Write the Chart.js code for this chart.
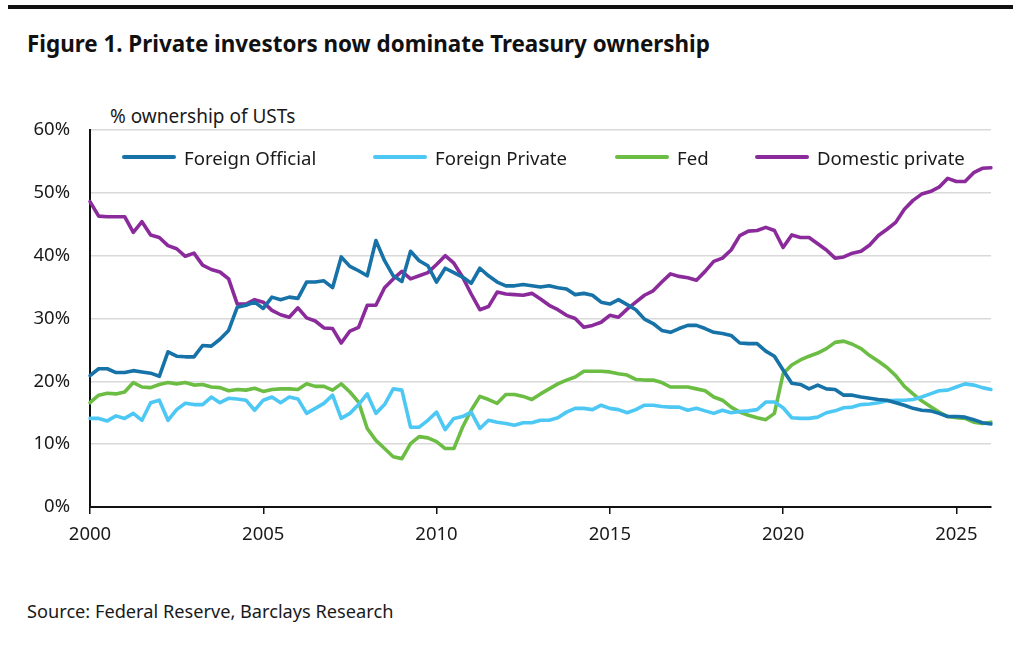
<!DOCTYPE html>
<html>
<head>
<meta charset="utf-8">
<script src="https://cdn.jsdelivr.net/npm/chart.js@4.4.1/dist/chart.umd.min.js"></script>
<style>
  html, body { margin:0; padding:0; background:#fff; }
  body { width:1024px; height:647px; position:relative; overflow:hidden; font-family:"Noto Sans", sans-serif; color:#1a1a1a; }
  #c { position:absolute; left:0; top:0; }
  .abs { position:absolute; white-space:nowrap; line-height:1; }
  #rule { position:absolute; left:8px; top:5px; width:1005px; height:4px; background:#111; }
  #title { left:27px; top:33px; font-size:22.4px; font-weight:700; color:#111; }
  #sub { left:110px; top:107px; font-size:19px; }
  #source { left:27px; top:602px; font-size:18.2px; }
  .leg { position:absolute; top:147px; height:20px; display:flex; align-items:center; font-size:18.6px; white-space:nowrap; }
  .leg span.ln { display:inline-block; width:54px; height:4px; border-radius:2px; margin-right:8px; }
</style>
</head>
<body>
<div id="rule"></div>
<div id="title" class="abs">Figure 1. Private investors now dominate Treasury ownership</div>
<div id="sub" class="abs">% ownership of USTs</div>
<div id="source" class="abs">Source: Federal Reserve, Barclays Research</div>
<canvas id="c" width="1024" height="647"></canvas>
<script>
// ---- Data (quarterly, 2000 Q1 .. 2026 Q1), % ownership of USTs ----
const years = [2000,2001,2002,2003,2004,2005,2006,2007,2008,2009,2010,2011,2012,2013,2014,2015,2016,2017,2018,2019,2020,2021,2022,2023,2024,2025,2026];
const yearTickLabels = ['2000','2005','2010','2015','2020','2025'];
const seriesNames = ['Foreign Official','Foreign Private','Fed','Domestic private'];
const seriesColors = ['#1672a7','#4dc8f4','#6bbd44','#8b2b9b'];

const foreignOfficial = [
  20.9,22.0,22.0,21.4, 21.4,21.7,21.5,21.3, 20.8,24.7,24.0,23.9, 23.9,25.7,25.6,26.7,
  28.1,31.8,32.1,32.6, 31.6,33.4,33.0,33.4, 33.2,35.8,35.8,36.0, 34.9,39.8,38.3,37.6,
  36.8,42.4,39.2,36.8, 35.9,40.7,39.2,38.4, 35.8,38.0,37.3,36.6, 35.6,38.0,36.8,35.8,
  35.2,35.2,35.4,35.2, 35.0,35.2,34.9,34.7, 33.8,34.0,33.7,32.6, 32.3,33.0,32.2,31.4,
  29.9,29.2,28.1,27.8, 28.4,28.9,28.9,28.4, 27.8,27.6,27.3,26.1, 26.0,26.0,24.8,24.0,
  21.8,19.7,19.5,18.8, 19.4,18.8,18.7,17.8, 17.8,17.5,17.3,17.1, 17.0,16.6,16.2,15.7,
  15.4,15.3,14.9,14.4, 14.4,14.3,13.9,13.4, 13.2
];
const foreignPrivate = [
  14.1,14.1,13.7,14.5, 14.1,14.9,13.8,16.6, 17.0,13.8,15.5,16.5, 16.3,16.3,17.5,16.6,
  17.3,17.2,17.0,15.4, 17.0,17.5,16.6,17.5, 17.2,14.9,15.7,16.5, 17.8,14.1,14.9,16.3,
  18.0,14.9,16.3,18.8, 18.6,12.7,12.7,13.8, 15.1,12.3,14.1,14.4, 15.1,12.5,13.8,13.5,
  13.3,13.0,13.4,13.4, 13.8,13.8,14.2,15.1, 15.7,15.7,15.5,16.2, 15.7,15.5,15.0,15.5,
  16.2,16.2,16.0,15.9, 15.9,15.4,15.7,15.3, 14.9,15.4,15.0,15.2, 15.3,15.5,16.7,16.7,
  15.8,14.2,14.1,14.1, 14.3,15.0,15.3,15.8, 15.9,16.3,16.4,16.6, 16.9,17.0,17.0,17.1,
  17.5,18.0,18.5,18.6, 19.1,19.6,19.4,19.0, 18.7
];
const fed = [
  16.6,17.8,18.1,18.0, 18.3,19.8,19.1,19.0, 19.5,19.8,19.6,19.8, 19.4,19.5,19.1,19.0,
  18.5,18.7,18.6,18.9, 18.4,18.7,18.8,18.8, 18.7,19.6,19.2,19.2, 18.6,19.6,18.3,16.7,
  12.5,10.6,9.3,8.0, 7.7,10.1,11.2,11.0, 10.4,9.3,9.3,12.7, 15.4,17.6,17.1,16.5,
  17.9,17.9,17.6,17.1, 18.0,18.8,19.6,20.2, 20.7,21.6,21.6,21.6, 21.5,21.2,21.0,20.3,
  20.2,20.2,19.8,19.1, 19.1,19.1,18.8,18.5, 17.5,17.0,15.9,15.1, 14.6,14.2,13.9,14.9,
  21.2,22.6,23.4,24.0, 24.5,25.2,26.2,26.4, 25.9,25.2,24.1,23.2, 22.2,20.9,19.2,18.0,
  16.9,16.0,15.1,14.4, 14.2,14.1,13.5,13.3, 13.5
];
const domesticPrivate = [
  48.6,46.3,46.2,46.2, 46.2,43.7,45.4,43.3, 42.9,41.6,41.1,39.9, 40.4,38.5,37.8,37.4,
  36.3,32.3,32.3,33.0, 32.6,31.3,30.6,30.2, 31.7,30.1,29.6,28.5, 28.4,26.1,28.0,28.6,
  32.1,32.1,34.9,36.3, 37.5,36.3,36.8,37.3, 38.6,40.0,38.8,36.6, 33.9,31.4,31.9,34.2,
  33.9,33.8,33.7,34.0, 33.1,32.1,31.4,30.5, 30.0,28.6,28.9,29.4, 30.5,30.2,31.5,32.6,
  33.7,34.4,35.8,37.1, 36.7,36.5,36.1,37.5, 39.1,39.6,40.9,43.2, 43.9,44.0,44.5,44.0,
  41.3,43.3,42.9,42.9, 41.9,40.9,39.6,39.8, 40.4,40.7,41.7,43.2, 44.2,45.3,47.4,48.8,
  49.8,50.2,50.9,52.3, 51.8,51.8,53.2,53.9, 54.0
];
const yTicks = [0,10,20,30,40,50,60];

// ---- Build categories (quarters) ----
const quarters = [];
years.forEach(y => {
  const qs = (y === 2026) ? ['Q1'] : ['Q1','Q2','Q3','Q4'];
  qs.forEach(q => quarters.push(y + ' ' + q));
});

const seriesData = [foreignOfficial, foreignPrivate, fed, domesticPrivate];

// ---- HTML legend ----
const legX = [122, 373, 615, 755];
seriesNames.forEach((n, i) => {
  const d = document.createElement('div');
  d.className = 'leg';
  d.style.left = legX[i] + 'px';
  d.innerHTML = '<span class="ln" style="background:' + seriesColors[i] + '"></span><span>' + n + '</span>';
  document.body.appendChild(d);
});

const ctx = document.getElementById('c').getContext('2d');
new Chart(ctx, {
  type: 'line',
  data: {
    labels: quarters,
    datasets: seriesNames.map((n, i) => ({
      label: n,
      data: seriesData[i],
      borderColor: seriesColors[i],
      backgroundColor: seriesColors[i],
      borderWidth: 3.6,
      pointRadius: 0,
      tension: 0,
      borderJoinStyle: 'round',
      borderCapStyle: 'round',
      fill: false
    }))
  },
  options: {
    responsive: false,
    animation: false,
    devicePixelRatio: 1,
    layout: { padding: { left: 0, right: 33, top: 130, bottom: 0 } },
    plugins: { legend: { display: false }, tooltip: { enabled: false }, title: { display: false } },
    scales: {
      x: {
        type: 'category',
        offset: false,
        afterFit: s => { s.height = 140; },
        grid: { drawOnChartArea: false, drawTicks: true, tickLength: 7, color: '#111', lineWidth: 1.5 },
        border: { display: true, color: '#111', width: 2 },
        ticks: {
          autoSkip: false, maxRotation: 0, minRotation: 0, padding: 10,
          color: '#1a1a1a', font: { family: 'Noto Sans', size: 18.5 },
          callback: function(v, idx) {
            const lab = quarters[idx];
            const yr = lab.slice(0,4);
            return (lab.endsWith('Q1') && yearTickLabels.includes(yr)) ? yr : null;
          }
        }
      },
      y: {
        min: 0, max: 60,
        afterFit: s => { s.width = 90; },
        afterBuildTicks: s => { s.ticks = yTicks.map(v => ({ value: v })); },
        grid: { color: '#d9d9d9', lineWidth: 1.5, drawTicks: false },
        border: { display: true, color: '#111', width: 2 },
        ticks: { padding: 20, color: '#1a1a1a', font: { family: 'Noto Sans', size: 18.5 }, callback: v => v + '%' }
      }
    }
  }
});
</script>
</body>
</html>
